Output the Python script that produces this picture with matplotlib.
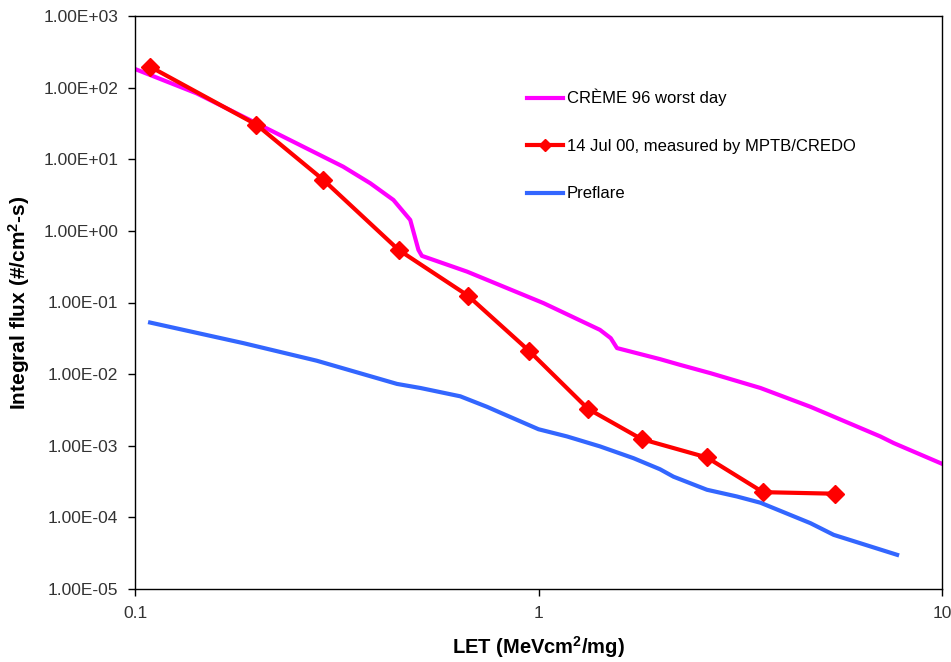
import matplotlib
matplotlib.use("Agg")
import matplotlib.pyplot as plt
from matplotlib.ticker import FixedLocator, FuncFormatter, NullLocator

plt.rcParams['font.family'] = ['Liberation Sans', 'DejaVu Sans']
plt.rcParams['mathtext.fontset'] = 'custom'
plt.rcParams['mathtext.rm'] = 'Liberation Sans:bold'
plt.rcParams['mathtext.default'] = 'rm'

# CREME 96 worst day
creme_let = [0.1, 0.142, 0.2, 0.261, 0.328, 0.383, 0.437, 0.481, 0.504, 0.514,
             0.665, 1.029, 1.42, 1.51, 1.565, 2.0, 2.24, 2.67, 3.55, 4.72,
             7.03, 7.59, 10.0]
creme_flux = [182, 83.4, 31.8, 15.0, 7.88, 4.62, 2.70, 1.42, 0.543, 0.448,
              0.270, 0.098, 0.0415, 0.0318, 0.0231, 0.0162, 0.0135, 0.0103, 0.0064, 0.0035,
              0.00135, 0.00109, 0.00056]

# 14 Jul 00, measured by MPTB/CREDO
meas_let = [0.109, 0.20, 0.293, 0.45, 0.668, 0.948, 1.326, 1.80, 2.615, 3.60, 5.42]
meas_flux = [196, 30.4, 5.15, 0.543, 0.125, 0.0211, 0.00328, 0.00124, 0.000686,
             0.000225, 0.000214]

# Preflare
pre_let = [0.109, 0.186, 0.282, 0.446, 0.51, 0.64, 0.745, 0.804, 1.0, 1.176,
           1.42, 1.72, 2.0, 2.16, 2.615, 3.10, 3.55, 4.72, 5.39, 7.74]
pre_flux = [0.0525, 0.027, 0.0154, 0.0073, 0.0064, 0.0049, 0.0035, 0.0029, 0.0017, 0.00135,
            0.00098, 0.00067, 0.00047, 0.00037, 0.000243, 0.000196, 0.00016, 0.000083, 0.000057, 0.00003]

y_ticks = [1e-5, 1e-4, 1e-3, 1e-2, 1e-1, 1e0, 1e1, 1e2, 1e3]
x_ticks = [0.1, 1, 10]
x_tick_labels = ['0.1', '1', '10']


def excel_sci(v, pos):
    s = '%.2E' % v
    mant, ex = s.split('E')
    return mant + 'E' + ex[0] + ex[1:].zfill(2)


fig = plt.figure(figsize=(9.51, 6.62), dpi=100)
ax = fig.add_axes([135 / 951, 1 - 589 / 662, 807 / 951, 573 / 662])

ax.plot(creme_let, creme_flux, color='#FF00FF', lw=3, label='CRÈME 96 worst day')
ax.plot(meas_let, meas_flux, color='#FF0000', lw=3, marker='D', markersize=9,
        label='14 Jul 00, measured by MPTB/CREDO')
ax.plot(pre_let, pre_flux, color='#3366FF', lw=3, label='Preflare')

ax.set_xscale('log')
ax.set_yscale('log')
ax.set_xlim(0.1, 10)
ax.set_ylim(1e-5, 1e3)

ax.yaxis.set_major_locator(FixedLocator(y_ticks))
ax.yaxis.set_major_formatter(FuncFormatter(excel_sci))
ax.yaxis.set_minor_locator(NullLocator())
ax.xaxis.set_major_locator(FixedLocator(x_ticks))
ax.set_xticklabels(x_tick_labels)
ax.xaxis.set_minor_locator(NullLocator())

ax.tick_params(axis='both', direction='out', length=5, width=1, labelsize=12.5,
               labelcolor='#333333', pad=7)
for sp in ax.spines.values():
    sp.set_linewidth(1)
    sp.set_color('black')

ax.set_xlabel(r'LET (MeVcm$^{2}$/mg)', fontsize=14.5, fontweight='bold')
ax.xaxis.set_label_coords(0.5, -0.078)
ax.set_ylabel(r'Integral flux (#/cm$^{2}$-s)', fontsize=15, fontweight='bold')
ax.yaxis.set_label_coords(-0.128, 0.5)

ax.legend(loc='upper left', bbox_to_anchor=(527 / 951, 1 - 89 / 662),
          bbox_transform=fig.transFigure, frameon=False, fontsize=12,
          handlelength=2.15, handletextpad=0.25, labelspacing=1.95,
          borderpad=0, borderaxespad=0, numpoints=1, markerscale=0.7)

fig.savefig('out.png', dpi=100)
